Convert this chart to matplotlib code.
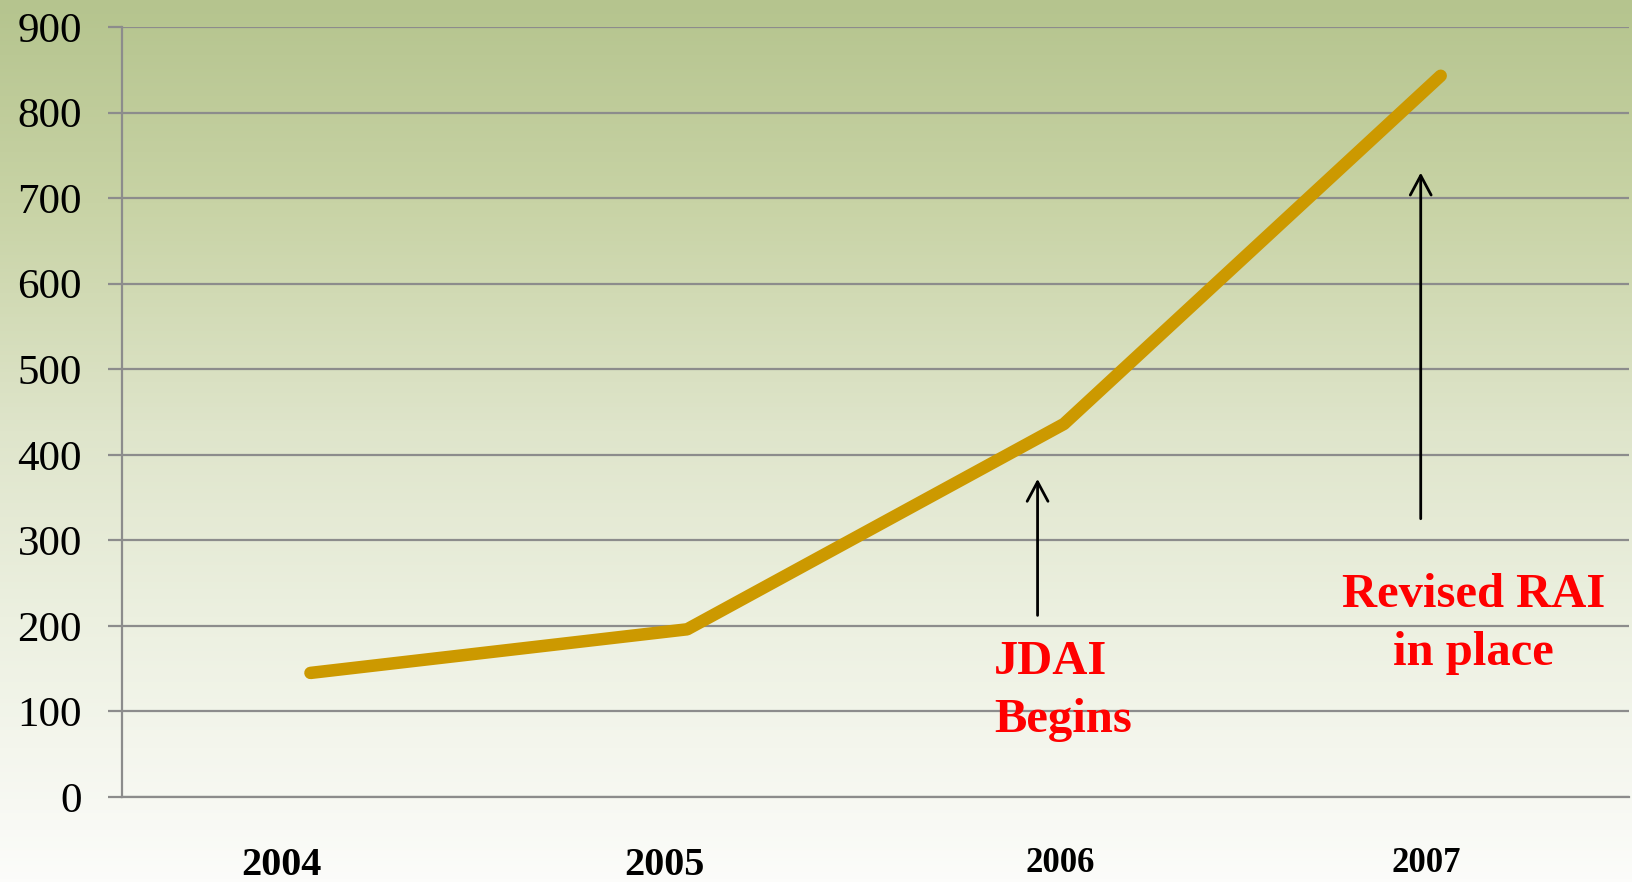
import numpy as np
import matplotlib
matplotlib.use("Agg")
import matplotlib.pyplot as plt
from matplotlib.colors import LinearSegmentedColormap
from matplotlib.transforms import ScaledTranslation

# ==================== 数据 ====================
years = ["2004", "2005", "2006", "2007"]
counts = [145, 196, 436, 843]
y_ticks = [0, 100, 200, 300, 400, 500, 600, 700, 800, 900]

plt.rcParams["font.family"] = ["Liberation Serif", "DejaVu Serif"]

fig = plt.figure(figsize=(16.32, 8.82), dpi=100)

# 背景渐变（整张图）
bg = fig.add_axes([0, 0, 1, 1], zorder=-10)
cmap = LinearSegmentedColormap.from_list(
    "bg", [(0.0, "#b5c48e"), (0.23, "#c8d3a5"), (0.49, "#dfe5cb"),
           (0.70, "#ecf0e0"), (1.0, "#fcfcfa")])
grad = np.linspace(0, 1, 256).reshape(-1, 1)
bg.imshow(grad, aspect="auto", cmap=cmap, extent=[0, 1, 0, 1], origin="upper")
bg.set_axis_off()

ax = fig.add_axes([0.0748, 0.0964, 0.9234, 0.873])
ax.patch.set_alpha(0)
x = np.arange(len(years))
ax.plot(x, counts, color="#cc9900", linewidth=9, solid_capstyle="round",
        solid_joinstyle="round", zorder=3)

ax.set_xlim(-0.5, 3.5)
ax.set_ylim(0, 900)
ax.set_yticks(y_ticks)
ax.yaxis.grid(True, color="#8c8c8c", linewidth=1.6)
ax.set_axisbelow(True)
for s in ["top", "right"]:
    ax.spines[s].set_visible(False)
for s in ["left", "bottom"]:
    ax.spines[s].set_color("#8c8c8c")
    ax.spines[s].set_linewidth(1.6)
ax.tick_params(axis="y", length=10, width=1.6, color="#8c8c8c",
               labelsize=31, pad=19)
ax.tick_params(axis="x", length=0, pad=36)
ax.set_xticks(x)
ax.set_xticklabels(years, fontweight="bold")

# 各年份标签大小和偏移
label_sizes = [29, 29, 25, 25]
label_dx = [-29, -23, -4, -14]
for lab, fs, dx in zip(ax.get_xticklabels(), label_sizes, label_dx):
    lab.set_fontsize(fs)
    lab.set_transform(lab.get_transform() + ScaledTranslation(dx / 100, 0, fig.dpi_scale_trans))

# 箭头
arrow_kw = dict(arrowstyle="->,head_length=1.4,head_width=0.75",
                color="black", lw=2.0, mutation_scale=10)
ax.annotate("", xy=(1.93, 375), xytext=(1.93, 209), arrowprops=arrow_kw)
ax.annotate("", xy=(2.947, 733), xytext=(2.947, 322), arrowprops=arrow_kw)

# 注释文字（baseline 对齐最后一行）
ax.text(1.814, 76, "JDAI\nBegins", color="#ff0000", fontsize=35,
        fontweight="bold", ha="left", va="baseline", linespacing=1.42)
ax.text(3.088, 154, "Revised RAI\nin place", color="#ff0000", fontsize=35,
        fontweight="bold", ha="center", va="baseline", multialignment="center",
        linespacing=1.42)

fig.savefig("out.png", dpi=100)
